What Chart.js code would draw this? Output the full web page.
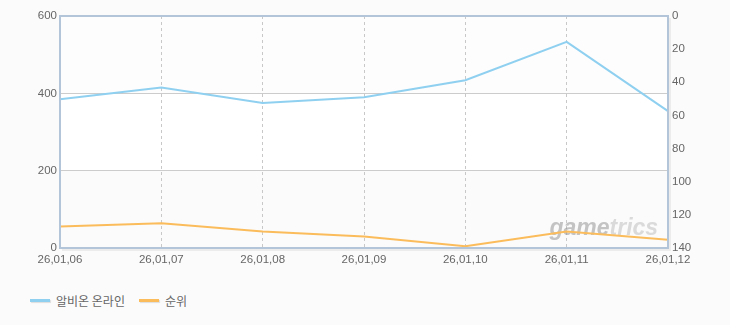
<!DOCTYPE html>
<html><head><meta charset="utf-8">
<script src="https://cdn.jsdelivr.net/npm/chart.js@4/dist/chart.umd.min.js"></script>
<style>
html,body{margin:0;padding:0;background:#fbfbfb;}
#wrap{position:relative;width:730px;height:325px;}
#c{position:absolute;left:0;top:0;}
.leg{position:absolute;top:292px;left:30px;font-family:"Noto Sans CJK KR","DejaVu Sans",sans-serif;font-size:12px;color:#666;display:flex;align-items:center;}
.item{display:flex;align-items:center;margin-right:14px;}
.sw{width:20px;height:3px;margin-right:6px;box-shadow:1px 1px 1px rgba(0,0,0,0.12);}
</style></head>
<body>
<div id="wrap">
<canvas id="c" width="730" height="285"></canvas>
<div class="leg">
 <div class="item"><span class="sw" style="background:#8fd0f0"></span><span>알비온 온라인</span></div>
 <div class="item"><span class="sw" style="background:#fbbc5c"></span><span>순위</span></div>
</div>
</div>
<script>
const categories = ["26,01,06","26,01,07","26,01,08","26,01,09","26,01,10","26,01,11","26,01,12"];
const players = [385, 415, 375, 390, 434, 533, 354];
const ranks = [127, 125, 130, 133, 139, 130, 135];
const leftTicks = [0, 200, 400, 600];
const rightTicks = [0, 20, 40, 60, 80, 100, 120, 140];

const tickFont = {family:'"Liberation Sans", Arial, sans-serif',size:11.5};

const frame = {
  id:'frame',
  beforeDraw(chart){
    const {ctx, chartArea:a, scales} = chart;
    const y = scales.y;
    ctx.save();
    const bands = [[400,600,'#fdfdfd'],[200,400,'#ffffff'],[0,200,'#fbfbfb']];
    bands.forEach(b=>{
      const t=y.getPixelForValue(b[1]), bt=y.getPixelForValue(b[0]);
      ctx.fillStyle=b[2]; ctx.fillRect(a.left,t,a.right-a.left,bt-t);
    });
    ctx.restore();
  },
  beforeDatasetsDraw(chart){
    const {ctx, chartArea:a} = chart;
    ctx.save();
    ctx.font='italic bold 23px "Liberation Sans", Arial, sans-serif';
    ctx.textBaseline='alphabetic';
    const x0=a.left+(a.right-a.left)*0.805, yb=a.bottom-13;
    ctx.fillStyle='rgba(140,140,140,0.5)';
    ctx.fillText('game', x0, yb);
    const w=ctx.measureText('game').width;
    ctx.fillStyle='rgba(170,170,170,0.4)';
    ctx.fillText('trics', x0+w, yb);
    ctx.restore();
  },
  afterDraw(chart){
    const {ctx, chartArea:a} = chart;
    ctx.save();
    ctx.strokeStyle='rgba(0,0,0,0.06)';
    ctx.lineWidth=2;
    ctx.beginPath();
    ctx.moveTo(a.left+2,a.bottom+2);ctx.lineTo(a.right+2,a.bottom+2);ctx.lineTo(a.right+2,a.top+2);
    ctx.stroke();
    ctx.strokeStyle='#b3c5d8';
    ctx.lineWidth=2;
    ctx.strokeRect(a.left,a.top,a.right-a.left,a.bottom-a.top);
    ctx.restore();
  }
};

new Chart(document.getElementById('c'),{
  type:'line',
  data:{labels:categories,datasets:[
    {label:'알비온 온라인',data:players,yAxisID:'y',borderColor:'#8fd0f0',borderWidth:2,pointRadius:0,tension:0,fill:false},
    {label:'순위',data:ranks,yAxisID:'y1',borderColor:'#fbbc5c',borderWidth:2,pointRadius:0,tension:0,fill:false}
  ]},
  options:{
    responsive:false,animation:false,
    layout:{padding:{top:16,left:0,right:0,bottom:0}},
    plugins:{legend:{display:false},tooltip:{enabled:false}},
    scales:{
      x:{
        offset:false,
        afterFit(s){s.height=37;},
        grid:{color:'#c8c8c8',drawTicks:false,lineWidth:(c)=>(c.index===0||c.index===categories.length-1)?0:1},
        border:{display:false,dash:[3,3]},
        ticks:{color:'#666',font:tickFont,padding:5,maxRotation:0,autoSkip:false}
      },
      y:{
        position:'left',min:0,max:600,
        afterFit(s){s.width=60;},
        afterBuildTicks(s){s.ticks=leftTicks.map(v=>({value:v}));},
        grid:{color:(c)=>(c.tick.value===0||c.tick.value===600)?'rgba(0,0,0,0)':'#cccccc',drawTicks:false},
        border:{display:false},
        ticks:{color:'#666',font:tickFont,padding:3}
      },
      y1:{
        position:'right',min:0,max:140,reverse:true,
        afterFit(s){s.width=62;},
        afterBuildTicks(s){s.ticks=rightTicks.map(v=>({value:v}));},
        grid:{display:false,drawTicks:false},
        border:{display:false},
        ticks:{color:'#666',font:tickFont,padding:4}
      }
    }
  },
  plugins:[frame]
});
</script>
</body></html>
